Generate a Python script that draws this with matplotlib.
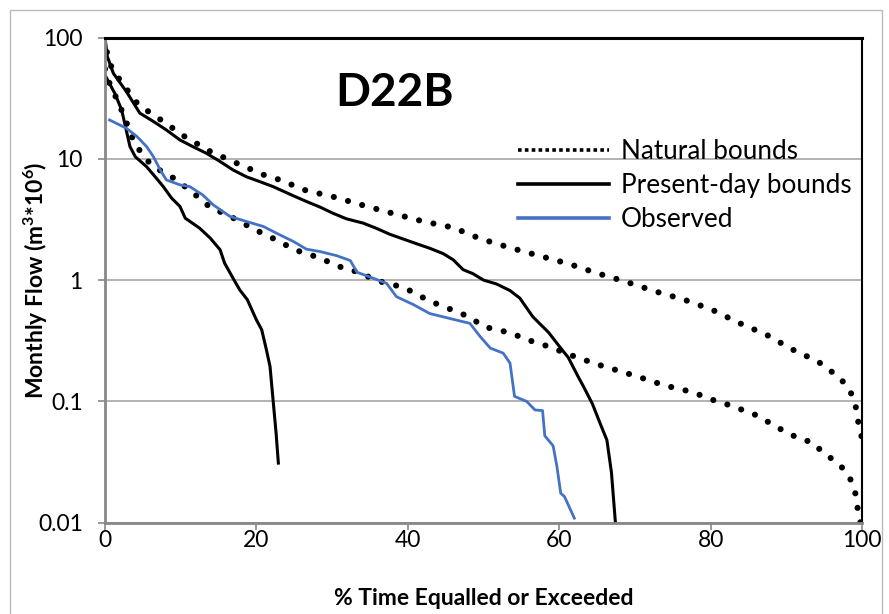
import matplotlib
matplotlib.use("Agg")
import matplotlib.pyplot as plt
from matplotlib.lines import Line2D
from matplotlib.patches import Rectangle

plt.rcParams['font.family'] = ['Lato', 'DejaVu Sans']
plt.rcParams['mathtext.fontset'] = 'custom'
plt.rcParams['mathtext.rm'] = 'Lato'
plt.rcParams['mathtext.bf'] = 'Lato:bold'

# natural bounds (dotted)
natUpX = [0, 0.3, 0.9, 2.1, 4.4, 7.4, 10.5, 13.9, 17.4, 20.9, 23.1, 26.5, 30.5, 34.3, 38.2, 42.1,
          46.0, 49.6, 53.5, 57.3, 61.3, 65.0, 68.8, 72.6, 76.5, 80.2, 83.7, 87.4, 90.7, 94.2,
          97.1, 98.4, 99.1, 99.4, 99.8, 100]
natUpY = [100, 72, 56, 43.4, 27.9, 20.9, 15.3, 11.5, 9.2, 7.4, 6.7, 5.5, 4.8, 4.1, 3.52, 3.04,
          2.71, 2.19, 1.85, 1.59, 1.36, 1.14, 0.97, 0.81, 0.69, 0.57, 0.445, 0.354, 0.27, 0.213,
          0.156, 0.123, 0.097, 0.073, 0.055, 0.05]
natLoX = [0, 0.2, 2.0, 3.9, 5.0, 6.1, 7.9, 9.5, 11.0, 12.5, 14.0, 15.7, 17.4, 19.2, 20.9, 22.8,
          24.4, 26.2, 28.1, 29.9, 31.7, 33.6, 35.4, 37.4, 39.3, 41.1, 42.8, 44.6, 46.4, 48.2,
          50.0, 51.7, 53.7, 55.5, 57.4, 59.2, 61.0, 62.9, 64.8, 66.7, 68.6, 70.4, 72.3, 74.2,
          76.1, 78.0, 79.8, 81.7, 83.5, 85.3, 86.9, 88.6, 90.2, 91.8, 93.5, 94.8, 96.2, 97.5,
          98.5, 99.1, 99.4, 99.8]
natLoY = [55, 47.6, 27, 13.4, 10.8, 8.9, 7.6, 6.7, 5.6, 4.74, 3.92, 3.56, 3.14, 2.73, 2.41, 2.12,
          1.87, 1.67, 1.55, 1.38, 1.24, 1.16, 1.02, 0.93, 0.88, 0.77, 0.675, 0.61, 0.55, 0.495,
          0.414, 0.39, 0.366, 0.326, 0.30, 0.275, 0.247, 0.225, 0.204, 0.188, 0.173, 0.16, 0.146,
          0.134, 0.126, 0.117, 0.105, 0.097, 0.088, 0.081, 0.072, 0.062, 0.055, 0.049, 0.046,
          0.038, 0.033, 0.028, 0.0226, 0.0178, 0.0134, 0.0099]

# present-day bounds (solid)
preUpX = [0, 0.3, 1.1, 2.8, 4.6, 6.4, 8.1, 9.9, 11.6, 13.4, 15.2, 16.9, 18.7, 20.4, 22.2, 24.9,
          26.6, 28.4, 30.1, 31.9, 34.1, 35.8, 37.6, 39.4, 41.2, 42.9, 44.7, 46.0, 47.3, 48.6,
          50.0, 51.7, 53.5, 54.8, 56.5, 58.6, 60.1, 61.2, 62.5, 63.2, 64.4, 65.4, 66.3, 66.9,
          67.4, 67.5]
preUpY = [100, 70, 50.7, 36, 23.8, 20.3, 17.3, 14.3, 12.6, 11.1, 9.5, 8.1, 7.1, 6.5, 5.9, 4.95,
          4.45, 4.0, 3.56, 3.2, 2.95, 2.68, 2.39, 2.18, 1.99, 1.83, 1.65, 1.47, 1.22, 1.13,
          1.0, 0.93, 0.82, 0.71, 0.5, 0.37, 0.28, 0.23, 0.16, 0.133, 0.095, 0.066, 0.048, 0.026,
          0.0105, 0.009]
preLoX = [0, 1.3, 2.2, 2.8, 3.3, 4.0, 5.5, 6.8, 7.7, 8.8, 9.9, 10.6, 12.5, 13.9, 15.2, 15.8,
          16.9, 17.8, 18.8, 20.0, 20.7, 21.3, 21.8, 22.2, 22.6, 22.9]
preLoY = [49, 34.6, 25.3, 17.3, 12.6, 10.4, 8.6, 6.9, 5.9, 4.74, 4.05, 3.24, 2.68, 2.22, 1.78,
          1.38, 1.04, 0.83, 0.69, 0.47, 0.39, 0.27, 0.194, 0.103, 0.055, 0.031]

# observed
obsX = [0.6, 2.8, 4.2, 5.5, 6.4, 7.3, 8.1, 9.9, 11.2, 12.9, 14.3, 16.5, 18.7, 20.9, 23.1, 24.9,
        26.6, 28.4, 30.6, 32.4, 33.3, 35.2, 37.2, 38.5, 40.7, 42.9, 45.4, 48.2, 49.6, 50.9,
        52.6, 53.5, 54.1, 55.7, 56.8, 57.8, 58.1, 59.2, 59.7, 60.2, 60.7, 62.0]
obsY = [20.9, 17.9, 15.3, 12.6, 10.4, 8.1, 6.7, 6.1, 5.9, 5.04, 4.17, 3.35, 3.04, 2.77, 2.36,
        2.08, 1.8, 1.72, 1.59, 1.45, 1.16, 1.05, 0.94, 0.73, 0.63, 0.53, 0.485, 0.44, 0.34,
        0.275, 0.25, 0.207, 0.11, 0.1, 0.085, 0.084, 0.052, 0.043, 0.029, 0.0175, 0.0164, 0.0109]

yTicks = [0.01, 0.1, 1, 10, 100]
yTickLabels = ["0.01", "0.1", "1", "10", "100"]
xTicks = [0, 20, 40, 60, 80, 100]

fig = plt.figure(figsize=(8.89, 6.14), dpi=100)
ax = fig.add_axes([105 / 889, 1 - 522.7 / 614, 757 / 889, (522.7 - 37.5) / 614])

dotStyle = dict(color="black", lw=4.4, linestyle=(0, (0.01, 2.4)), dash_capstyle="round")
ax.plot(natUpX, natUpY, **dotStyle)
ax.plot(natLoX, natLoY, **dotStyle)
ax.plot(preUpX, preUpY, color="black", lw=2.2)
ax.plot(preLoX, preLoY, color="black", lw=2.2)
ax.plot(obsX, obsY, color="#4472C4", lw=2.0)

ax.set_yscale("log")
ax.set_xlim(0, 100)
ax.set_ylim(0.01, 100)
ax.set_yticks(yTicks)
ax.set_yticklabels(yTickLabels)
ax.minorticks_off()
ax.set_xticks(xTicks)
ax.tick_params(axis="both", labelsize=16.5, color="#888888", length=5, width=1.2)
ax.tick_params(axis="x", pad=0)
ax.tick_params(axis="y", pad=11)
ax.yaxis.grid(True, color="#a6a6a6", lw=1.2)
ax.set_axisbelow(True)

ax.spines["left"].set_color("#888888")
ax.spines["left"].set_linewidth(2)
ax.spines["bottom"].set_color("#888888")
ax.spines["bottom"].set_linewidth(2)
ax.spines["top"].set_color("black")
ax.spines["top"].set_linewidth(2.2)
ax.spines["right"].set_color("black")
ax.spines["right"].set_linewidth(1.5)

ax.set_xlabel("% Time Equalled or Exceeded", fontsize=16.5, fontweight="bold", labelpad=27)
ax.set_ylabel(r"Monthly Flow (m$\mathbf{^{3}}$*10$\mathbf{^{6}}$)", fontsize=16.5,
              fontweight="bold", labelpad=-9)

ax.text(0.383, 0.885, "D22B", transform=ax.transAxes, fontsize=33, fontweight="bold",
        ha="center", va="center")

handles = [
    Line2D([], [], color="black", lw=2.6, linestyle=(0, (1, 0.9))),
    Line2D([], [], color="black", lw=2.6),
    Line2D([], [], color="#4472C4", lw=2.6),
]
ax.legend(handles, ["Natural bounds", "Present-day bounds", "Observed"], frameon=False,
          fontsize=18.8, loc="upper left", bbox_to_anchor=(0.5456, 0.79), handlelength=3.5,
          handletextpad=0.45, labelspacing=0.34, borderaxespad=0, borderpad=0)

fig.patches.append(Rectangle((10 / 889, -0.1), 872 / 889, 1.1 - 10 / 614, transform=fig.transFigure,
                             fill=False, edgecolor="#bbbbbb", lw=1))

fig.savefig("out.png", dpi=100)
